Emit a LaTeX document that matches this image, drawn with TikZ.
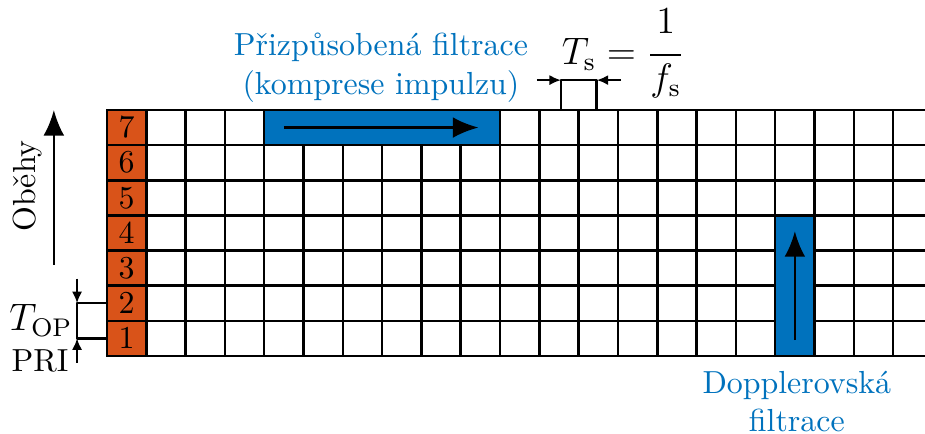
\documentclass[tikz,border=0pt]{standalone}
\usepackage{amsmath}
\usepackage{tikz}
\usetikzlibrary{arrows.meta}
\definecolor{filterblue}{RGB}{0,114,189}
\definecolor{pulseorange}{RGB}{217,83,25}

\begin{document}
\begin{tikzpicture}[x=0.433cm,y=0.387cm,line join=round,
  bigarrow/.style={thick,-{Latex[length=8pt,width=6.5pt]}},
  smallarrow/.style={thick,-{Latex[length=3.6pt,width=3.2pt]}},
  bluebar/.style={fill=filterblue,draw=black,thick},
  bluetext/.style={text=filterblue,align=center}]
 \useasboundingbox (-2.72,-2.22) rectangle (20.81,10.13);
 \begin{scope}
  \clip (-2.72,-2.22) rectangle (20.81,10.13);
  \fill[pulseorange] (0,0) rectangle (1,7);
  \foreach \i in {0,...,21}
   \draw[thick,line cap=rect] (\i,0) -- (\i,7);
  \foreach \j in {0,...,7}
   \draw[thick,line cap=rect] (0,\j) -- (21,\j);
  \filldraw[bluebar] (4,6) rectangle (10,7);
  \filldraw[bluebar] (17,0) rectangle (18,4);
 \end{scope}
 \foreach \k in {1,...,7}
  \node (pulse\k) at (0.5,\k-0.5) {$\k$};
 % komprese impulzu a dopplerovska filtrace
 \coordinate (mf-start) at (4.5,6.5);
 \coordinate (mf-end) at (9.45,6.5);
 \draw[bigarrow] (mf-start) -- (mf-end);
 \coordinate (dop-start) at (17.5,0.45);
 \coordinate (dop-end) at (17.5,3.55);
 \draw[bigarrow] (dop-start) -- (dop-end);
 \node[bluetext] (mf-label) at (6.97,8.2) {Přizpůsobená filtrace\\(komprese impulzu)};
 \node[bluetext] (dop-label) at (17.55,-1.3) {Dopplerovská\\filtrace};
 % obehy
 \coordinate (pass-start) at (-1.35,2.59);
 \coordinate (pass-end) at (-1.35,7.0);
 \draw[bigarrow] (pass-start) -- (pass-end);
 \node[rotate=90] (pass-label) at (-2.01,4.84) {Oběhy};
 % opakovaci perioda
 \coordinate (pri-top) at (-0.76,1.5);
 \coordinate (pri-bot) at (-0.76,0.5);
 \coordinate (pri-in) at (-0.76,2.2);
 \coordinate (pri-out) at (-0.76,-0.2);
 \draw[thick] (pulse2.west-|0,1.5) -- (pri-top) -- (pri-bot) -- (pulse1.west-|0,0.5);
 \draw[smallarrow] (pri-in) -- (pri-top);
 \draw[smallarrow] (pri-out) -- (pri-bot);
 \node (top-label) at (-1.68,1.02) {\large$T_\mathrm{OP}$};
 \node (pri-label) at (-1.70,-0.14) {PRI};
 % vzorkovaci perioda
 \coordinate (ts-left) at (11.55,7.85);
 \coordinate (ts-right) at (12.46,7.85);
 \coordinate (ts-lin) at (10.94,7.85);
 \coordinate (ts-rin) at (13.08,7.85);
 \draw[thick] (ts-left|-0,7) -- (ts-left) -- (ts-right) -- (ts-right|-0,7);
 \draw[smallarrow] (ts-lin) -- (ts-left);
 \draw[smallarrow] (ts-rin) -- (ts-right);
 \node (ts-label) at (13.14,8.6)
  {\large$T_\mathrm{s}=\dfrac{1\rule[-5pt]{0pt}{0pt}}{f_\mathrm{s}}$};
\end{tikzpicture}
\end{document}
